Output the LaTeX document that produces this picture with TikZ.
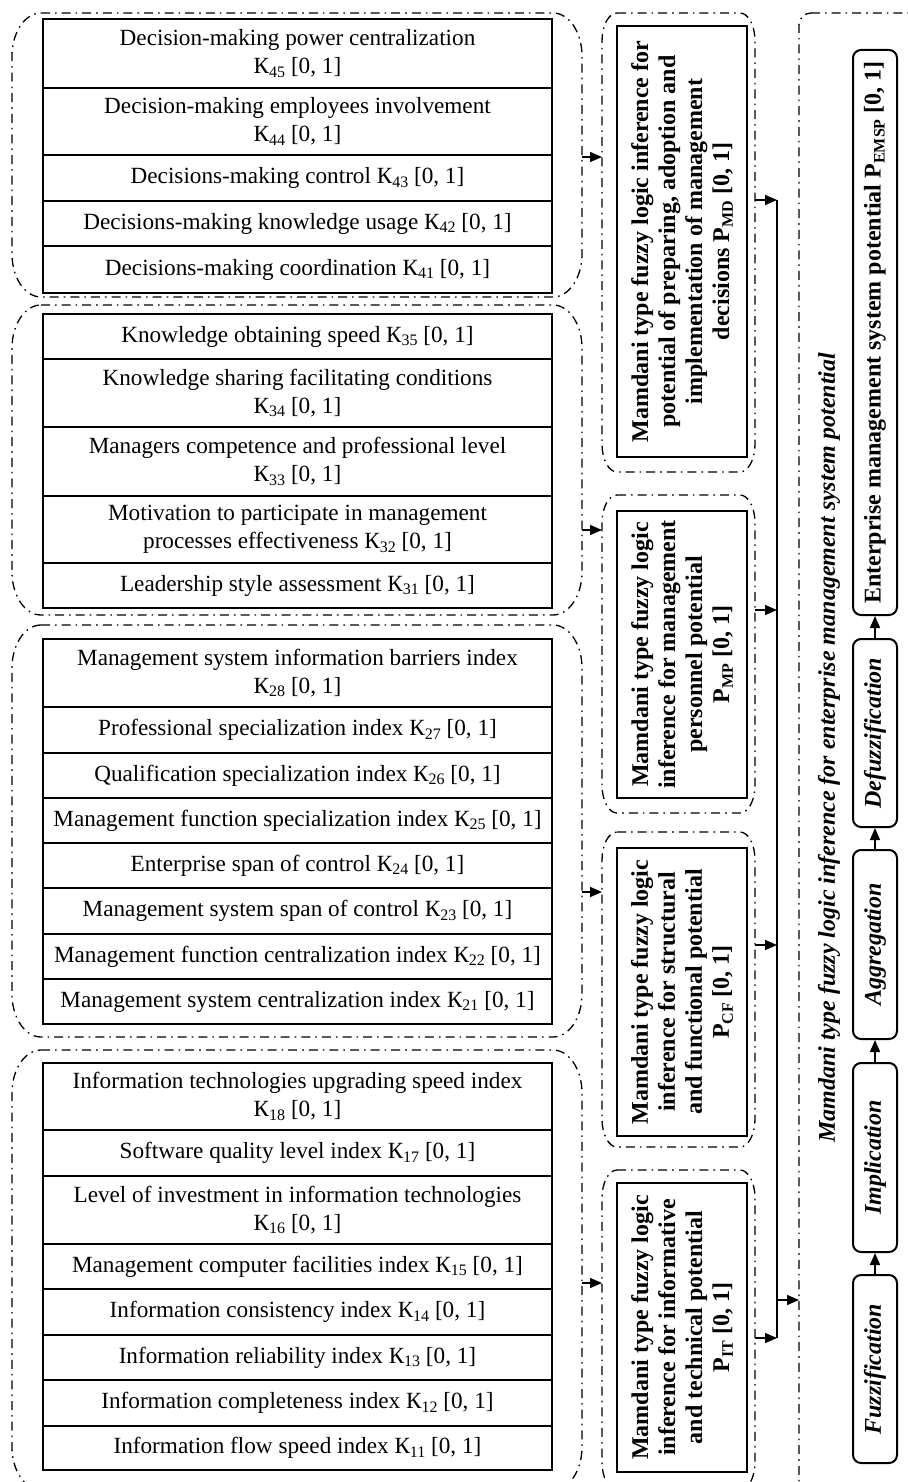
\documentclass[tikz,border=0pt]{standalone}
\usepackage{fontspec}
\setmainfont{Liberation Serif}
\usetikzlibrary{arrows.meta,fit}
\newcommand\sbs[1]{\raisebox{-0.35ex}{\fontsize{8}{8}\selectfont #1}}
\newcommand\frm[7]{%
  \node[inner sep=0pt, outer sep=0pt, fit={(#2,#3) (#4,#5)}] (#1) {};
  \draw[dd] (#2+#6,#3) -- (#4-#6,#3)
     arc[start angle=90,end angle=0,x radius=#6*0.5pt,y radius=#7*0.5pt]
     -- (#4,#5-#7)
     arc[start angle=0,end angle=-90,x radius=#6*0.5pt,y radius=#7*0.5pt]
     -- (#2+#6,#5)
     arc[start angle=-90,end angle=-180,x radius=#6*0.5pt,y radius=#7*0.5pt]
     -- (#2,#3+#7)
     arc[start angle=180,end angle=90,x radius=#6*0.5pt,y radius=#7*0.5pt]
     -- cycle;}
\begin{document}
\begin{tikzpicture}[x=0.5pt,y=-0.5pt,
  dd/.style={line width=0.65pt, dash pattern=on 4.5pt off 2.5pt on 0.8pt off 2.5pt},
  kbox/.style={draw, line width=1pt, minimum width=254.5pt,
    align=center, inner sep=0pt, font=\fontsize{11.6}{14}\selectfont},
  mbox/.style={draw, line width=1pt, rotate=90, align=center, inner sep=0pt,
    minimum height=65pt, font=\bfseries\fontsize{12}{13.5}\selectfont},
  pbox/.style={draw, line width=1pt, rounded corners=4pt, rotate=90, inner sep=0pt,
    minimum height=22pt, font=\bfseries\fontsize{12}{14}\selectfont},
  pboxi/.style={pbox, font=\bfseries\itshape\fontsize{12}{14}\selectfont},
  arr/.style={-{Triangle[length=6pt,width=5pt]}, line width=0.75pt},
  bus/.style={line width=0.75pt}]
\useasboundingbox (0,0) rectangle (907,1482);

% frames
\frm{g4}{12}{13}{582}{297}{29}{43}
\frm{g3}{12}{305}{582}{615}{29}{43}
\frm{g2}{12}{625}{582}{1037}{29}{43}
\frm{g1}{12}{1050}{582}{1490}{29}{43}
\frm{mdf}{602}{13}{755}{472}{15}{28}
\frm{mpf}{602}{495}{755}{813}{15}{28}
\frm{cff}{602}{832}{755}{1147}{15}{28}
\frm{itf}{602}{1170}{755}{1490}{15}{28}
\frm{rf}{799}{13}{925}{1497}{12}{12}

% group 4
\node[kbox, minimum height=34.5pt] (k45) at (297.5,53.5) {Decision-making power centralization\\К\sbs{45} [0, 1]};
\node[kbox, minimum height=33.5pt] (k44) at (297.5,121.5) {Decision-making employees involvement\\К\sbs{44} [0, 1]};
\node[kbox, minimum height=23pt] (k43) at (297.5,178) {Decisions-making control К\sbs{43} [0, 1]};
\node[kbox, minimum height=22.5pt] (k42) at (297.5,223.5) {Decisions-making knowledge usage К\sbs{42} [0, 1]};
\node[kbox, minimum height=23.5pt] (k41) at (297.5,269.5) {Decisions-making coordination К\sbs{41} [0, 1]};

% group 3
\node[kbox, minimum height=22.5pt] (k35) at (297.5,336.5) {Knowledge obtaining speed К\sbs{35} [0, 1]};
\node[kbox, minimum height=34pt] (k34) at (297.5,393) {Knowledge sharing facilitating conditions\\К\sbs{34} [0, 1]};
\node[kbox, minimum height=34.5pt] (k33) at (297.5,461.5) {Managers competence and professional level\\К\sbs{33} [0, 1]};
\node[kbox, minimum height=33.5pt] (k32) at (297.5,529.5) {Motivation to participate in management\\processes effectiveness К\sbs{32} [0, 1]};
\node[kbox, minimum height=22.5pt] (k31) at (297.5,585.5) {Leadership style assessment К\sbs{31} [0, 1]};

% group 2
\node[kbox, minimum height=34pt] (k28) at (297.5,673) {Management system information barriers index\\К\sbs{28} [0, 1]};
\node[kbox, minimum height=23pt] (k27) at (297.5,730) {Professional specialization index К\sbs{27} [0, 1]};
\node[kbox, minimum height=22.5pt] (k26) at (297.5,775.5) {Qualification specialization index К\sbs{26} [0, 1]};
\node[kbox, minimum height=22.5pt] (k25) at (297.5,820.5) {Management function specialization index К\sbs{25} [0, 1]};
\node[kbox, minimum height=22.5pt] (k24) at (297.5,865.5) {Enterprise span of control К\sbs{24} [0, 1]};
\node[kbox, minimum height=23pt] (k23) at (297.5,911) {Management system span of control К\sbs{23} [0, 1]};
\node[kbox, minimum height=22.5pt] (k22) at (297.5,956.5) {Management function centralization index К\sbs{22} [0, 1]};
\node[kbox, minimum height=22.5pt] (k21) at (297.5,1001.5) {Management system centralization index К\sbs{21} [0, 1]};

% group 1
\node[kbox, minimum height=33.5pt] (k18) at (297.5,1096.5) {Information technologies upgrading speed index\\К\sbs{18} [0, 1]};
\node[kbox, minimum height=23pt] (k17) at (297.5,1153) {Software quality level index К\sbs{17} [0, 1]};
\node[kbox, minimum height=34pt] (k16) at (297.5,1210) {Level of investment in information technologies\\К\sbs{16} [0, 1]};
\node[kbox, minimum height=22.5pt] (k15) at (297.5,1266.5) {Management computer facilities index К\sbs{15} [0, 1]};
\node[kbox, minimum height=23pt] (k14) at (297.5,1312) {Information consistency index К\sbs{14} [0, 1]};
\node[kbox, minimum height=22.5pt] (k13) at (297.5,1357.5) {Information reliability index К\sbs{13} [0, 1]};
\node[kbox, minimum height=23pt] (k12) at (297.5,1403) {Information completeness index К\sbs{12} [0, 1]};
\node[kbox, minimum height=22pt] (k11) at (297.5,1448) {Information flow speed index К\sbs{11} [0, 1]};

% middle boxes
\node[mbox, minimum width=215.5pt] (md) at (682,241.5) {Mamdani type fuzzy logic inference for\\potential of preparing, adoption and\\implementation of management\\decisions P\sbs{MD} [0, 1]};
\node[mbox, minimum width=143.5pt] (mp) at (682,654.5) {Mamdani type fuzzy logic\\inference for management\\personnel potential\\P\sbs{MP} [0, 1]};
\node[mbox, minimum width=144pt] (cf) at (682,992) {Mamdani type fuzzy logic\\inference for structural\\and functional potential\\P\sbs{CF} [0, 1]};
\node[mbox, minimum width=144.5pt] (it) at (682,1327.5) {Mamdani type fuzzy logic\\inference for informative\\and technical potential\\P\sbs{IT} [0, 1]};

% right column
\node[rotate=90, inner sep=0pt, font=\bfseries\itshape\fontsize{12}{14}\selectfont] (lbl) at (829,748) {Mamdani type fuzzy logic inference for enterprise management system potential};
\node[pbox, minimum width=282.5pt] (emsp) at (875,332.5) {Enterprise management system potential P\sbs{EMSP} [0, 1]};
\node[pboxi, minimum width=94pt] (defz) at (875,733) {Defuzzification};
\node[pboxi, minimum width=94.5pt] (aggr) at (875,944.5) {Aggregation};
\node[pboxi, minimum width=94.5pt] (impl) at (875,1157.5) {Implication};
\node[pboxi, minimum width=94pt] (fuzz) at (875,1369) {Fuzzification};

\draw[arr] (fuzz) -- (impl);
\draw[arr] (impl) -- (aggr);
\draw[arr] (aggr) -- (defz);
\draw[arr] (defz) -- (emsp);

% arrows left -> middle
\coordinate (y4) at (0,157);
\coordinate (y3) at (0,530);
\coordinate (y2) at (0,892);
\coordinate (y1) at (0,1283);
\draw[arr] (g4.east |- y4) -- (mdf.west |- y4);
\draw[arr] (g3.east |- y3) -- (mpf.west |- y3);
\draw[arr] (g2.east |- y2) -- (cff.west |- y2);
\draw[arr] (g1.east |- y1) -- (itf.west |- y1);

% bus
\coordinate (bt) at (777,200);
\coordinate (bmp) at (777,610);
\coordinate (bcf) at (777,945);
\coordinate (bb) at (777,1338);
\coordinate (bo) at (777,1300);
\draw[bus] (bt) -- (bb);
\draw[arr] (mdf.east |- bt) -- (bt);
\draw[arr] (mpf.east |- bmp) -- (bmp);
\draw[arr] (cff.east |- bcf) -- (bcf);
\draw[arr] (itf.east |- bb) -- (bb);
\draw[arr] (bo) -- (rf.west |- bo);
\end{tikzpicture}
\end{document}
